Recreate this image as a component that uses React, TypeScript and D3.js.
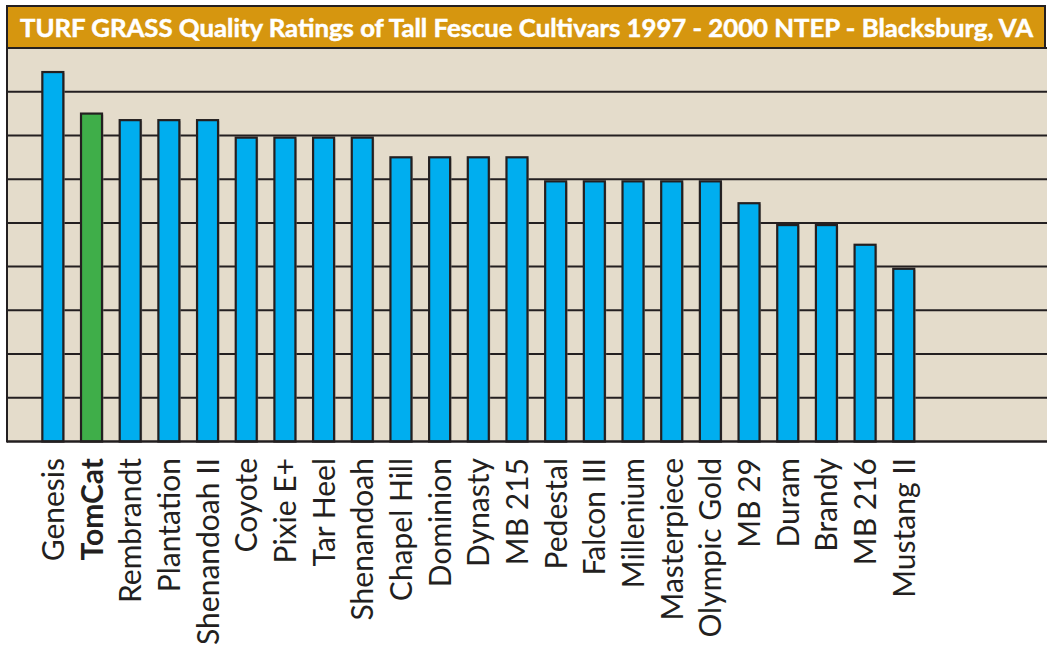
import * as d3 from 'd3'

const cultivars = [
  'Genesis', 'TomCat', 'Rembrandt', 'Plantation', 'Shenandoah II', 'Coyote',
  'Pixie E+', 'Tar Heel', 'Shenandoah', 'Chapel Hill', 'Dominion', 'Dynasty',
  'MB 215', 'Pedestal', 'Falcon III', 'Millenium', 'Masterpiece', 'Olympic Gold',
  'MB 29', 'Duram', 'Brandy', 'MB 216', 'Mustang II'
]
const ratings = [
  8.45, 7.5, 7.35, 7.35, 7.35, 6.95,
  6.95, 6.95, 6.95, 6.5, 6.5, 6.5,
  6.5, 5.95, 5.95, 5.95, 5.95, 5.95,
  5.45, 4.95, 4.95, 4.5, 3.95
]
const gridTicks = [1, 2, 3, 4, 5, 6, 7, 8]
const highlight = 'TomCat'
const title = 'TURF GRASS Quality Ratings of Tall Fescue Cultivars 1997 - 2000 NTEP - Blacksburg, VA'

const W = 1047
const H = 646
const ink = '#231f20'

export default function App() {
  const left = 7
  const top = 48
  const bottom = 441.5

  const x = d3.scaleBand<string>()
    .domain(cultivars)
    .range([33.5, 923.1])
    .paddingInner(0.457)
    .paddingOuter(0.2285)

  const y = d3.scaleLinear().domain([0, 9]).range([bottom, top])

  const data = cultivars.map((name, i) => ({ name, value: ratings[i] }))

  return (
    <svg width={W} height={H} style={{ position: 'absolute', left: 0, top: 0, background: '#fff' }}>
      {/* title band */}
      <rect x={left} y={6} width={W - left - 2} height={top - 6} fill="#d6960f" stroke={ink} strokeWidth={2} />
      <text
        x={20}
        y={37}
        textLength={1013}
        lengthAdjust="spacingAndGlyphs"
        fill="#fff"
        stroke="#fff"
        strokeWidth={0.5}
        fontFamily="Lato, 'Open Sans', sans-serif"
        fontWeight="bold"
        fontSize={24}
      >
        {title}
      </text>

      {/* plot area */}
      <rect x={left} y={top} width={W - left} height={bottom - top} fill="#e4dccb" />
      <line x1={left} x2={W} y1={top} y2={top} stroke={ink} strokeWidth={2} />
      {gridTicks.map(t => (
        <line key={t} x1={left} x2={W} y1={y(t)} y2={y(t)} stroke={ink} strokeWidth={2} />
      ))}

      {data.map(d => {
        const bx = x(d.name) ?? 0
        const by = y(d.value)
        return (
          <g key={d.name}>
            <rect x={bx + 1.5} y={by + 1} width={x.bandwidth()} height={bottom - by} fill="#9b928a" opacity={0.6} />
            <rect
              x={bx}
              y={by}
              width={x.bandwidth()}
              height={bottom - by}
              fill={d.name === highlight ? '#3fae49' : '#00aeef'}
              stroke={ink}
              strokeWidth={2.2}
            />
          </g>
        )
      })}

      <line x1={left} x2={W} y1={bottom} y2={bottom} stroke={ink} strokeWidth={2.5} />
      <line x1={left} x2={left} y1={6} y2={bottom + 1} stroke={ink} strokeWidth={2} />

      {/* category labels */}
      {cultivars.map(name => (
        <text
          key={name}
          transform={`translate(${(x(name) ?? 0) + x.bandwidth() / 2 + 11},458) rotate(-90)`}
          textAnchor="end"
          fill={ink}
          fontFamily="Lato, 'Open Sans', sans-serif"
          fontWeight={name === highlight ? 'bold' : 'normal'}
          fontSize={30}
        >
          {name}
        </text>
      ))}
    </svg>
  )
}
